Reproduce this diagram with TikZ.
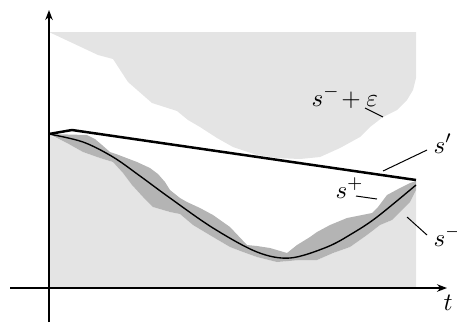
\documentclass[tikz,border=0pt]{standalone}
\usepackage{tikz}
\usetikzlibrary{arrows.meta}
\definecolor{lowfill}{RGB}{228,228,228}
\definecolor{bandfill}{RGB}{180,180,180}

\begin{document}
\begin{tikzpicture}[
  x=0.4pt, y=-0.4pt,
  axis/.style={-{Stealth[length=4pt,width=3pt]}, line width=0.6pt},
  region/.style={fill=lowfill, draw=none},
  band/.style={fill=bandfill, draw=none},
  curve/.style={line width=0.55pt},
  bound/.style={line width=1pt, line join=round},
  leader/.style={line width=0.4pt},
  lbl/.style={inner sep=0pt, anchor=base west}
]
\useasboundingbox (0,0) rectangle (457,322);

% s^- + epsilon
\fill[region] (49,32) -- (98,55) -- (113,59) -- (128,82) -- (152,103) -- (177,111)
  -- (188,120) -- (200,127) -- (217,138) -- (233,147) -- (257,155) -- (277,158)
  -- (300,159) -- (320,157) -- (340,148) -- (360,137) -- (370,127) -- (383,117)
  -- (397,110) -- (407,100) -- (413,90) -- (416,78) -- (416,32) -- cycle;

% s^-
\fill[region] (49,288) -- (49,135) -- (67,143) -- (83,152) -- (100,158) -- (113,162)
  -- (123,173) -- (132,185) -- (143,197) -- (153,207) -- (170,212) -- (180,214)
  -- (193,225) -- (213,237) -- (230,247) -- (243,252) -- (257,257) -- (277,262)
  -- (300,260) -- (317,260) -- (333,253) -- (350,247) -- (367,235) -- (380,225)
  -- (392,220) -- (400,212) -- (410,202) -- (416,190) -- (416,288) -- cycle;

\fill[band] (49,134) -- (87,135) -- (95,139) -- (102,145) -- (110,152) -- (116,154)
  -- (137,162) -- (150,168) -- (158,174) -- (165,182) -- (170,190) -- (180,198)
  -- (187,202) -- (200,208) -- (213,215) -- (230,227) -- (247,245) -- (257,246)
  -- (270,248) -- (287,253) -- (297,245) -- (310,237) -- (317,232) -- (330,225)
  -- (347,218) -- (372,213) -- (378,207) -- (387,195) -- (400,188) -- (410,183)
  -- (416,181)
  -- (416,190) -- (410,202) -- (400,212) -- (392,220) -- (380,225) -- (367,235)
  -- (350,247) -- (333,253) -- (317,260) -- (300,260) -- (277,262) -- (257,257)
  -- (243,252) -- (230,247) -- (213,237) -- (193,225) -- (180,214) -- (170,212)
  -- (153,207) -- (143,197) -- (132,185) -- (123,173) -- (113,162) -- (100,158)
  -- (83,152) -- (67,143) -- cycle;

\draw[curve] plot[smooth, tension=0.55] coordinates {(49,134) (83,142) (113,157)
  (140,176) (170,198) (213,228) (257,252) (290,258) (327,247) (353,233) (377,217)
  (416,185)};

\draw[bound] (49,134) -- (72,130) -- (416,180);

% axes
\coordinate (o1) at (49,322);
\coordinate (o2) at (49,10);
\coordinate (x1) at (10,288);
\coordinate (x2) at (447,288);
\draw[axis] (o1) -- (o2);
\draw[axis] (x1) -- (x2);

\node[lbl] (t) at (443,310) {$t$};
\node[lbl] (eps) at (311,106) {$s^-\!+\varepsilon$};
\node[lbl] (sp) at (433,153) {$s'$};
\node[lbl] (splus) at (335,198) {$s^+$};
\node[lbl] (sminus) at (433,246) {$s^-$};

\coordinate (e1) at (365,108);
\coordinate (e2) at (383,117);
\coordinate (p1) at (427,150);
\coordinate (p2) at (383,171);
\coordinate (u1) at (356,196);
\coordinate (u2) at (377,199);
\coordinate (m1) at (427,235);
\coordinate (m2) at (407,217);
\draw[leader] (e1) -- (e2);
\draw[leader] (p1) -- (p2);
\draw[leader] (u1) -- (u2);
\draw[leader] (m1) -- (m2);
\end{tikzpicture}
\end{document}
